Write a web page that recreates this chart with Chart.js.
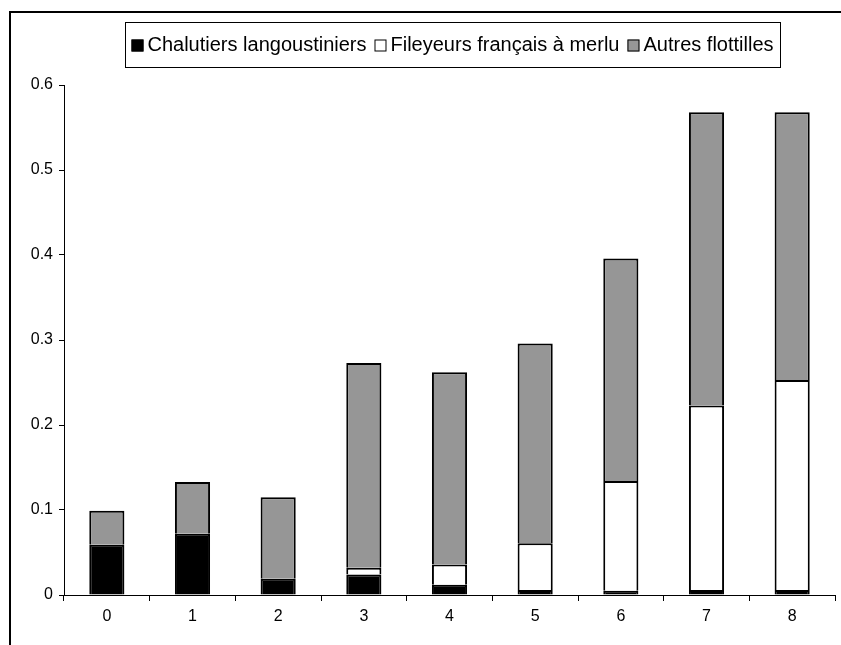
<!DOCTYPE html>
<html><head><meta charset="utf-8">
<script src="https://cdn.jsdelivr.net/npm/chart.js@4/dist/chart.umd.min.js"></script>
<style>html,body{margin:0;padding:0;background:#fff}#wrap{width:841px;height:645px;position:relative}</style>
</head><body><div id="wrap"><canvas id="c" width="841" height="645"></canvas></div>
<script>
const categories = ['0','1','2','3','4','5','6','7','8'];
const chalutiers = [0.059, 0.072, 0.019, 0.024, 0.012, 0.006, 0.005, 0.006, 0.006];
const fileyeurs  = [0, 0, 0, 0.008, 0.024, 0.055, 0.129, 0.217, 0.247];
const autres     = [0.040, 0.061, 0.096, 0.241, 0.226, 0.235, 0.262, 0.345, 0.315];
const seriesNames = ['Chalutiers langoustiniers', 'Fileyeurs français à merlu', 'Autres flottilles'];
const yTickValues = [0, 0.1, 0.2, 0.3, 0.4, 0.5, 0.6];

const FONT = "'Liberation Sans', Arial, sans-serif";
const colors = ['#000000', '#ffffff', '#969696'];

const framePlugin = {
  id: 'frame',
  afterDraw(chart) {
    const ctx = chart.ctx;
    ctx.save();
    ctx.strokeStyle = '#000';
    ctx.lineWidth = 2;
    ctx.beginPath();
    ctx.moveTo(10, 645);
    ctx.lineTo(10, 12);
    ctx.lineTo(841, 12);
    ctx.stroke();
    // legend box
    const bx = 125, by = 22, bw = 655, bh = 45;
    ctx.lineWidth = 1;
    ctx.fillStyle = '#fff';
    ctx.fillRect(bx, by, bw, bh);
    ctx.strokeRect(bx + 0.5, by + 0.5, bw, bh);
    ctx.font = '20px ' + FONT;
    ctx.textBaseline = 'middle';
    const sq = 12, gapText = 4, gapItem = 8;
    const ds = chart.data.datasets;
    let total = 0;
    const widths = ds.map(d => ctx.measureText(d.label).width);
    widths.forEach((w, i) => { total += sq + gapText + w + (i < widths.length - 1 ? gapItem : 0); });
    let x = bx + (bw - total) / 2;
    const cy = by + bh / 2 + 1;
    ds.forEach((d, i) => {
      ctx.fillStyle = d.backgroundColor;
      ctx.fillRect(x, cy - sq / 2, sq, sq);
      ctx.strokeStyle = '#000';
      ctx.lineWidth = 1;
      ctx.strokeRect(x + 0.5, cy - sq / 2 + 0.5, sq - 1, sq - 1);
      ctx.fillStyle = '#000';
      ctx.textAlign = 'left';
      ctx.fillText(d.label, x + sq + gapText, cy);
      x += sq + gapText + widths[i] + gapItem;
    });
    ctx.restore();
  }
};

new Chart(document.getElementById('c'), {
  type: 'bar',
  data: {
    labels: categories,
    datasets: [
      { label: seriesNames[0], data: chalutiers, backgroundColor: colors[0] },
      { label: seriesNames[1], data: fileyeurs, backgroundColor: colors[1] },
      { label: seriesNames[2], data: autres, backgroundColor: colors[2] }
    ].map(d => Object.assign(d, { borderColor: '#000', borderWidth: 2, barPercentage: 0.41, categoryPercentage: 1 }))
  },
  options: {
    responsive: false,
    animation: false,
    devicePixelRatio: 1,
    layout: { padding: { left: 0, top: 85, right: 6, bottom: 0 } },
    plugins: { legend: { display: false }, tooltip: { enabled: false } },
    scales: {
      x: {
        stacked: true,
        grid: { display: true, drawOnChartArea: false, offset: true, color: '#000', tickLength: 6, tickWidth: 1 },
        border: { display: true, color: '#000', width: 1 },
        ticks: { color: '#000', font: { family: FONT, size: 16 }, padding: 6, maxRotation: 0 },
        afterFit(s) { s.height = 50; }
      },
      y: {
        stacked: true,
        min: 0, max: 0.6,
        afterBuildTicks(s) { s.ticks = yTickValues.map(v => ({ value: v })); },
        grid: { display: true, drawOnChartArea: false, color: '#000', tickLength: 5, tickWidth: 1 },
        border: { display: true, color: '#000', width: 1 },
        ticks: { color: '#000', font: { family: FONT, size: 16 }, padding: 6, callback: v => String(+v.toFixed(1)) },
        afterFit(s) { s.width = 64; }
      }
    }
  },
  plugins: [framePlugin]
});
</script></body></html>
